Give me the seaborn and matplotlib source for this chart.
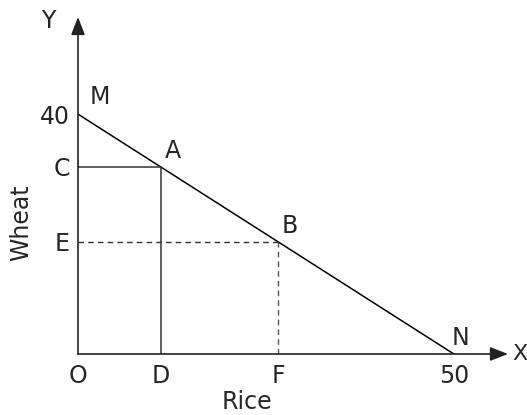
import matplotlib.pyplot as plt
import numpy as np
import pandas as pd
import seaborn as sns

# production possibility line M -> N
line_x = [0, 50]
line_y = [40, 0]
# points on the line
pt_names = ["A", "B"]
pt_x = [11, 26.6]
pt_y = [31.2, 18.7]
x_ticks = [0, 11, 26.6, 50]
x_ticklabels = ["O", "D", "F", "50"]
y_ticks = [18.7, 31.2, 40]
y_ticklabels = ["E", "C", "40"]
x_end = 57.2
y_end = 56.2

sns.set_style("white")
plt.rcParams['font.family'] = ['DejaVu Sans']
fs = 17

fig = plt.figure(figsize=(5.27, 4.15), dpi=100)
ax = fig.add_axes([78 / 527, 61 / 415, 430 / 527, 337 / 415])

df = pd.DataFrame({"Rice": line_x, "Wheat": line_y})
sns.lineplot(data=df, x="Rice", y="Wheat", color="black", linewidth=1.1, ax=ax)

# A : solid guides, B : dashed guides
ax.plot([0, pt_x[0]], [pt_y[0], pt_y[0]], color="#333333", lw=1.1)
ax.plot([pt_x[0], pt_x[0]], [0, pt_y[0]], color="#333333", lw=1.1)
ax.plot([0, pt_x[1]], [pt_y[1], pt_y[1]], color="#333333", lw=1.0, ls=(0, (4, 3)))
ax.plot([pt_x[1], pt_x[1]], [0, pt_y[1]], color="#555555", lw=1.0, ls=(0, (4, 3)))

ax.set_xlim(0, x_end)
ax.set_ylim(0, y_end)
for s in ax.spines.values():
    s.set_visible(False)

# axes with arrows
arrow = dict(arrowstyle="-|>,head_width=0.35,head_length=0.9", color="#222222",
             lw=1.2, shrinkA=0, shrinkB=0, mutation_scale=12)
ax.annotate("", xy=(x_end, 0), xytext=(0, 0), arrowprops=arrow, annotation_clip=False)
ax.annotate("", xy=(0, y_end), xytext=(0, 0), arrowprops=arrow, annotation_clip=False)
ax.annotate("X", xy=(x_end, 0), xytext=(4, 0), textcoords="offset pixels",
            ha="left", va="center", fontsize=fs - 1, annotation_clip=False)
ax.annotate("Y", xy=(0, y_end), xytext=(-30, -4), textcoords="offset pixels",
            ha="center", va="center", fontsize=fs, annotation_clip=False)

ax.set_xticks(x_ticks)
ax.set_xticklabels(x_ticklabels)
ax.set_yticks(y_ticks)
ax.set_yticklabels(y_ticklabels)
ax.tick_params(axis="x", length=0, pad=7, labelsize=fs)
ax.tick_params(axis="y", length=0, pad=6, labelsize=fs)

# point labels
ax.annotate("M", xy=(line_x[0], line_y[0]), xytext=(22, 17), textcoords="offset pixels",
            ha="center", va="center", fontsize=fs)
ax.annotate("N", xy=(line_x[1], line_y[1]), xytext=(7, 16), textcoords="offset pixels",
            ha="center", va="center", fontsize=fs, annotation_clip=False)
for n, x, y in zip(pt_names, pt_x, pt_y):
    ax.annotate(n, xy=(x, y), xytext=(12, 16), textcoords="offset pixels",
                ha="center", va="center", fontsize=fs)

ax.set_xlabel("Rice", fontsize=fs)
ax.set_ylabel("Wheat", fontsize=fs)
ax.xaxis.set_label_coords(0.393, -0.108)
ax.yaxis.set_label_coords(-0.103, 0.39)

fig.savefig("out.png", dpi=100)
